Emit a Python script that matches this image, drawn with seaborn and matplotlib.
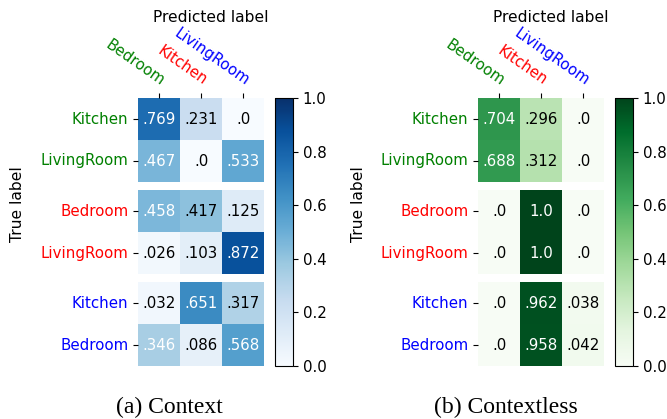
import numpy as np
import matplotlib
matplotlib.use("Agg")
import matplotlib.pyplot as plt
import seaborn as sns

# predicted classes (columns) and the row labels of each group
pred_labels = ["Bedroom", "Kitchen", "LivingRoom"]
pred_colors = ["green", "red", "blue"]
true_labels = [["Kitchen", "LivingRoom"], ["Bedroom", "LivingRoom"], ["Kitchen", "Bedroom"]]
group_colors = ["green", "red", "blue"]

# (a) Context
context_vals = [
    [[0.769, 0.231, 0.0], [0.467, 0.0, 0.533]],
    [[0.458, 0.417, 0.125], [0.026, 0.103, 0.872]],
    [[0.032, 0.651, 0.317], [0.346, 0.086, 0.568]],
]
# (b) Contextless
contextless_vals = [
    [[0.704, 0.296, 0.0], [0.688, 0.312, 0.0]],
    [[0.0, 1.0, 0.0], [0.0, 1.0, 0.0]],
    [[0.0, 0.962, 0.038], [0.0, 0.958, 0.042]],
]
captions = ["(a) Context", "(b) Contextless"]
cmaps = ["Blues", "Greens"]

W, H = 667, 419
fig = plt.figure(figsize=(W / 100, H / 100), dpi=100)


def px_axes(x0, y0, w, h):
    # pixel box (top-left origin) -> figure axes
    return fig.add_axes([x0 / W, 1 - (y0 + h) / H, w / W, h / H])


def fmt(v):
    s = f"{v:.3f}".rstrip("0")
    if s.endswith("."):
        s += "0"
    return s.lstrip("0") if v < 1 else s


def draw_panel(vals, cmap, caption, x_off):
    group_tops = [98, 190, 282]
    for g, top in enumerate(group_tops):
        data = np.array(vals[g])
        ax = px_axes(138 + x_off, top, 126, 84)
        annot = np.vectorize(fmt)(data)
        sns.heatmap(data, ax=ax, cmap=cmap, vmin=0, vmax=1, cbar=False,
                    annot=annot, fmt="", annot_kws={"fontsize": 10.8})
        # text colour like sklearn: white above mid of group range
        thr = (data.max() + data.min()) / 2
        for t, v in zip(ax.texts, data.ravel()):
            t.set_color("white" if v > thr else "black")
        ax.set_yticklabels(true_labels[g], rotation=0, fontsize=10.8)
        for lbl in ax.get_yticklabels():
            lbl.set_color(group_colors[g])
        ax.tick_params(axis="y", length=3.5)
        if g == 0:
            ax.xaxis.tick_top()
            ax.set_xticklabels(pred_labels, rotation=-35, ha="right",
                               rotation_mode="anchor", fontsize=10.8)
            for lbl, c in zip(ax.get_xticklabels(), pred_colors):
                lbl.set_color(c)
            ax.tick_params(axis="x", length=3.5)
        else:
            ax.set_xticks([])

    cax = px_axes(275 + x_off, 98, 18, 268)
    sm = plt.cm.ScalarMappable(cmap=cmap, norm=plt.Normalize(0, 1))
    cb = fig.colorbar(sm, cax=cax)
    cb.set_ticks([0, 0.2, 0.4, 0.6, 0.8, 1.0])
    cb.ax.tick_params(labelsize=10.8)
    cb.outline.set_linewidth(0.8)

    fig.text((211 + x_off) / W, 1 - 17 / H, "Predicted label", ha="center",
             va="center", fontsize=11.2)
    fig.text((18 + x_off) / W, 1 - 204 / H, "True label", ha="center",
             va="center", rotation=90, fontsize=11.2)
    fig.text((169 + x_off * 0.99) / W, 1 - 407 / H, caption, ha="center",
             va="center", fontsize=17, family="Liberation Serif")


draw_panel(context_vals, cmaps[0], captions[0], 0)
draw_panel(contextless_vals, cmaps[1], captions[1], 340)

fig.savefig("out.png", dpi=100)
